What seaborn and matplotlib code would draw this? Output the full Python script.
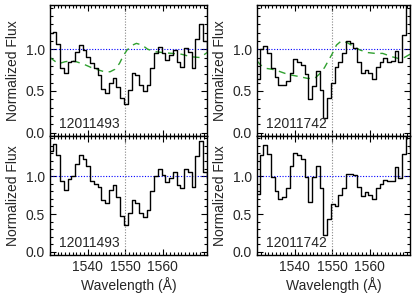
import numpy as np
import matplotlib
matplotlib.use("Agg")
import matplotlib.pyplot as plt
from matplotlib.ticker import MultipleLocator
import seaborn as sns

# bin centres (Angstrom)
wave = [1530.2, 1531.2, 1532.2, 1533.2, 1534.2, 1535.2, 1536.2, 1537.2, 1538.2,
        1539.2, 1540.2, 1541.2, 1542.2, 1543.2, 1544.2, 1545.2, 1546.2, 1547.2,
        1548.2, 1549.2, 1550.2, 1551.2, 1552.2, 1553.2, 1554.2, 1555.2, 1556.2,
        1557.2, 1558.2, 1559.2, 1560.2, 1561.2, 1562.2, 1563.2, 1564.2, 1565.2,
        1566.2, 1567.2, 1568.2, 1569.2, 1570.2, 1571.2, 1572.2]

# object 12011493
flux_a_top = [1.19, 1.21, 1.06, 0.77, 0.71, 0.85, 0.86, 0.97, 1.05, 0.99, 0.91,
              0.84, 0.78, 0.69, 0.52, 0.47, 0.60, 0.66, 0.55, 0.42, 0.34, 0.51,
              0.71, 0.69, 0.57, 0.50, 0.57, 0.77, 0.95, 1.03, 0.96, 0.87, 0.93,
              0.99, 0.85, 0.79, 1.02, 0.97, 0.77, 1.12, 1.30, 1.10, 0.97]
flux_a_bot = [1.33, 1.43, 1.28, 0.93, 0.82, 0.96, 1.00, 1.16, 1.28, 1.22, 1.13,
              0.94, 0.90, 0.86, 0.68, 0.65, 0.82, 0.89, 0.72, 0.48, 0.35, 0.51,
              0.69, 0.65, 0.51, 0.46, 0.55, 0.80, 1.00, 1.09, 1.01, 0.92, 0.97,
              1.06, 0.88, 0.84, 1.10, 1.06, 0.86, 1.26, 1.46, 1.06, 0.97]
model_a_wave = [1530.0, 1531.5, 1532.5, 1534.0, 1535.5, 1537.0, 1539.0, 1541.0,
                1543.0, 1544.5, 1546.0, 1547.3, 1548.5, 1549.5, 1550.5, 1552.0,
                1553.0, 1554.5, 1556.0, 1558.0, 1560.0, 1562.5, 1565.0, 1567.5,
                1570.0, 1571.8]
model_a = [0.90, 0.85, 0.83, 0.85, 0.86, 0.85, 0.82, 0.78, 0.75, 0.73, 0.73,
           0.76, 0.83, 0.92, 0.99, 1.05, 1.07, 1.05, 1.00, 0.97, 0.96, 0.95,
           0.94, 0.91, 0.90, 0.96]

# object 12011742
flux_b_top = [0.64, 1.00, 1.04, 0.96, 0.77, 0.67, 0.57, 0.57, 0.62, 0.72, 0.88,
              0.85, 0.81, 0.70, 0.40, 0.56, 0.74, 0.51, 0.18, 0.41, 0.60, 0.79,
              0.85, 0.96, 1.10, 1.07, 1.01, 0.85, 0.72, 0.75, 0.71, 0.64, 0.79,
              0.85, 0.89, 0.85, 0.86, 0.98, 0.85, 1.17, 1.60, 1.29, 1.29]
flux_b_bot = [0.77, 1.28, 1.41, 1.29, 0.99, 0.81, 0.70, 0.72, 0.85, 1.14, 1.31,
              1.28, 1.23, 0.99, 0.66, 0.99, 1.13, 0.84, 0.22, 0.44, 0.63, 0.60,
              0.75, 0.85, 1.03, 1.03, 1.01, 0.86, 0.74, 0.79, 0.75, 0.70, 0.85,
              0.90, 0.95, 0.93, 0.94, 1.12, 0.97, 1.29, 1.60, 1.37, 1.37]
model_b_wave = [1530.0, 1531.0, 1532.5, 1534.0, 1535.6, 1537.5, 1539.2, 1541.5,
                1543.5, 1545.4, 1546.8, 1548.0, 1549.0, 1550.0, 1551.2, 1552.5,
                1554.0, 1555.5, 1557.5, 1559.5, 1561.5, 1563.5, 1566.0, 1568.5,
                1570.8]
model_b = [0.86, 0.81, 0.77, 0.76, 0.74, 0.71, 0.69, 0.67, 0.65, 0.65, 0.71,
           0.78, 0.86, 0.94, 1.05, 1.10, 1.08, 1.04, 0.99, 0.96, 0.95, 0.95,
           0.91, 0.88, 0.94]

names = ["12011493", "12011742"]

sns.set_style("ticks")
plt.rcParams["font.family"] = ["Liberation Sans", "DejaVu Sans"]
plt.rcParams["xtick.direction"] = "in"
plt.rcParams["ytick.direction"] = "in"

W, H = 415, 297
fig = plt.figure(figsize=(W / 100, H / 100), dpi=100)


def px_axes(x0, y0, x1, y1):
    return fig.add_axes([x0 / W, 1 - y1 / H, (x1 - x0) / W, (y1 - y0) / H])


panels = [
    (px_axes(50, 5, 207, 136), wave, flux_a_top, model_a_wave, model_a, names[0], 1571.8, True),
    (px_axes(50, 136, 207, 255), wave, flux_a_bot, None, None, names[0], 1571.8, False),
    (px_axes(257, 5, 410, 136), wave, flux_b_top, model_b_wave, model_b, names[1], 1570.8, True),
    (px_axes(257, 136, 410, 255), wave, flux_b_bot, None, None, names[1], 1570.8, False),
]

for ax, w, f, mw, m, name, xmax, top in panels:
    ax.set_xlim(1530, xmax)
    ax.set_ylim(-0.04, 1.53)
    ax.axvline(1550, color="#888888", lw=0.8, ls=(0, (1, 1.5)))
    ax.axhline(1.0, color="#0000ff", lw=0.8, ls=(0, (1, 1.5)))
    if m is not None:
        sns.lineplot(x=mw, y=m, ax=ax, color="#2fa02f", lw=1.0,
                     linestyle=(0, (5, 4)))
    sns.lineplot(x=w, y=f, ax=ax, color="black", lw=1.0, drawstyle="steps-mid")
    ax.text(1532.4, 0.02, name, fontsize=10, ha="left", va="bottom")

    ax.set_xticks([1540, 1550, 1560])
    ax.xaxis.set_minor_locator(MultipleLocator(1))
    ax.set_yticks([0.0, 0.5, 1.0])
    ax.yaxis.set_minor_locator(MultipleLocator(0.1))
    ax.set_yticklabels(["0.0", "0.5", "1.0"])
    ax.tick_params(which="both", top=True, right=True, labelsize=10,
                   width=0.8, color="black")
    ax.tick_params(which="major", length=4)
    ax.tick_params(which="minor", length=2)
    ax.set_ylabel("Normalized Flux", fontsize=10, labelpad=4)
    if top:
        ax.set_xticklabels([])
        ax.set_xlabel("")
    else:
        ax.set_xlabel("Wavelength (Å)", fontsize=10, labelpad=2)
    for s in ax.spines.values():
        s.set_linewidth(1.0)
        s.set_color("black")

fig.savefig("out.png", dpi=100)
